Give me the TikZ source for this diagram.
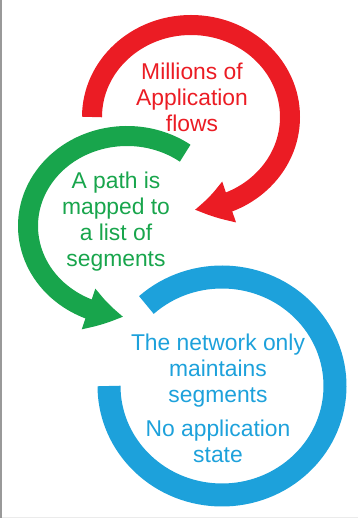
\documentclass[tikz,border=0pt]{standalone}
\usepackage{fontspec}
\setmainfont{Liberation Sans}
\usetikzlibrary{arrows.meta,bending}
\definecolor{flowred}{RGB}{235,28,36}
\definecolor{pathgreen}{RGB}{24,165,76}
\definecolor{netblue}{RGB}{29,161,219}

\begin{document}
\begin{tikzpicture}[
    x=0.02cm, y=0.02cm,
    flowtext/.style={align=center, font=\fontsize{13}{14.8}\selectfont},
    ring/.style={line width=0.4cm, line cap=butt},
    head/.style={-{Triangle[length=0.72cm, width=0.8cm, bend]}}
]
    \useasboundingbox (0,0) rectangle (358,524);
    \draw[black!40, line width=0.03cm] (0.8,6) -- (0.8,524);
    \draw[black!8, line width=0.02cm] (2,6) -- (358,6);

    % circle centres
    \coordinate (redc) at (191,407);
    \coordinate (greenc) at (127,298);
    \coordinate (bluec) at (222,138);

    \draw[ring, flowred, head] ([shift={(180:99 and 92)}]redc)
        arc[start angle=180, end angle=-88, x radius=99, y radius=92];
    \draw[ring, pathgreen, head] ([shift={(54:99 and 90)}]greenc)
        arc[start angle=54, end angle=268, x radius=99, y radius=90];
    \draw[ring, netblue, line width=0.46cm] ([shift={(132:113 and 109)}]bluec)
        arc[start angle=132, end angle=-180, x radius=113, y radius=109];

    \node[flowtext, text=flowred] (flows) at (192,427) {Millions of\\Application\\flows};
    \node[flowtext, text=pathgreen] (pathmap) at (116,302) {A path is\\mapped to\\a list of\\segments};
    \node[flowtext, text=netblue] (netstate) at (218,125.5) {The network only\\maintains\\segments\\[4.5pt]No application\\state};
\end{tikzpicture}
\end{document}
